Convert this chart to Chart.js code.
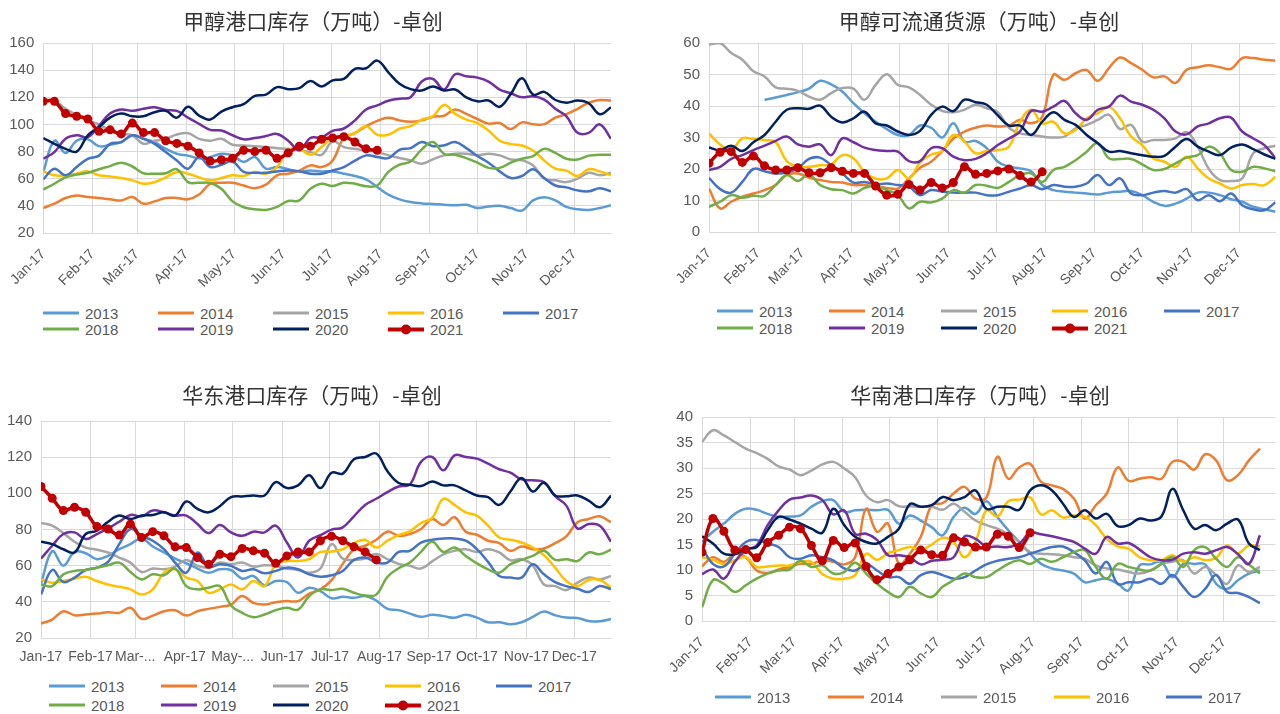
<!DOCTYPE html>
<html><head><meta charset="utf-8">
<script src="https://cdn.jsdelivr.net/npm/chart.js@4.4.1/dist/chart.umd.min.js"></script>
<style>
html,body{margin:0;padding:0;background:#fff;}
body{width:1280px;height:714px;position:relative;overflow:hidden;font-family:'Liberation Sans',sans-serif;}
canvas{position:absolute;}
.title{position:absolute;transform:translate(-50%,-50%);font-family:'Noto Sans CJK SC',sans-serif;font-size:21px;color:#333;white-space:nowrap;}
.lg{position:absolute;display:flex;align-items:center;font-size:15px;color:#595959;transform:translateY(-50%);white-space:nowrap;}
.lg .ln{width:36px;margin-right:6px;position:relative;}
.lg .dot{position:absolute;left:50%;top:50%;width:10px;height:10px;border-radius:50%;transform:translate(-50%,-50%);}
</style></head><body>
<script>
const monthDays=[0,31,59,90,120,151,181,212,243,273,304,334];
const monthLabels=['Jan-17','Feb-17','Mar-17','Apr-17','May-17','Jun-17','Jul-17','Aug-17','Sep-17','Oct-17','Nov-17','Dec-17'];
const monthLabelsEast=['Jan-17','Feb-17','Mar-...','Apr-17','May-...','Jun-17','Jul-17','Aug-17','Sep-17','Oct-17','Nov-17','Dec-17'];
const years=['2013','2014','2015','2016','2017','2018','2019','2020','2021'];
const colors=['#5B9BD5','#ED7D31','#A5A5A5','#FFC000','#4472C4','#70AD47','#7030A0','#002060','#C00000'];

// 甲醇港口库存
const port2013=[65,88,79,88,89,84,85,87,92,89.4,87,82,78.4,77,75,76,78.4,77.2,72.3,76,67.4,68.6,67,65.4,66,65.4,65.4,63.7,62,59.5,53.9,48.3,44.8,42.8,41.8,41.4,40.8,40.4,40.8,38.4,39.6,40,38.4,36.5,44,46.3,44,39.2,37.5,37,38.4,40.4];
const port2014=[38.4,41.6,45.8,47.7,46.5,45.8,44.8,44,46.5,41.6,43.3,45.8,45.8,44.8,48.3,56.3,57,57,55,53,55.6,62.5,63.7,66,69.8,68.6,73.5,90,93.6,98.7,102.6,105,103,102,103,105.7,106.4,111,107.8,104,100.6,101,96.6,101.5,100.2,100.2,105,107.6,111.5,116,118,117.6];
const port2015=[118,117.6,111.5,107,103,100,95.5,93,92,85.7,88,89.4,92.6,93.6,89.4,88,89.4,85,84.5,84,83.3,82.5,82,81,79.6,77.6,87.5,83.3,82,80.8,79.6,77.2,75.2,73.5,71,74.2,77.2,78.4,78.4,77.2,78.4,77.2,74.2,73.5,69.8,60,58.8,57.5,60,64.4,62.5,64.4];
const port2016=[65.4,62.5,62.5,63.7,65.4,62.5,61.7,60.5,58.8,56.3,57.5,61,65,63.7,61,58.8,60.5,62.5,62,65,63.7,68.6,80.8,82,77.6,83.3,90,90.6,93.8,98.7,92.4,92.4,96.8,98.7,103.6,106,114.4,107.8,103.6,101,95.5,88,85.5,84.5,80.8,73.5,67.4,66,62,67,65.4,62.5];
const port2017=[59.5,67.4,62.5,68.6,74.7,77,85.7,87,92,89.4,85.7,79.6,73.5,67.4,76,68.6,70.3,72.7,65,64.4,64.4,65.4,66,65.4,63.7,63.7,66,68.6,73.3,77.2,76,75.2,81.3,82.5,87,84,84.5,87,82.5,76.7,71.8,65.4,60.5,62,67,60.5,55,53.6,51.4,50.7,53,50.7];
const port2018=[52,56.3,61,63,64.4,67,69.3,71.8,69,64,63.7,64,67,57.5,57,56.8,52.6,43.3,39,37.5,37,39.2,43.6,44,52.6,56.3,54.6,57,56.3,54.4,55,65,70.3,72.7,81.6,87,78.4,77.6,75.2,71.8,68,68,71.8,74.7,76.7,82,79,74.7,74.2,77,77.6,77.6];
const port2019=[74.7,79.6,89.4,92,90.6,99,108,111,110,111.5,112.7,110.7,110,105,100.4,96,95.5,92,89,90,91.4,93,88,81,90,90.4,95.3,97,103,111,114,117.4,119,120,131.6,133.5,125.7,137,135.5,134.5,131.6,125.7,123,120,120.8,118.3,111.5,106,93.8,93.8,100,89.4];
const port2020=[90,85.7,82,80,92,98,105,108,106,106,109,110,105,113,106.5,103.6,109.5,112.7,115,121,122,127.5,126,126.7,132,128,132.5,133.5,141,141.4,147,138.4,130,126,125,128,125,125.7,120,117,117.6,113,122.5,134,122,124,118,116,117.6,115.6,107.5,112.7];
const port2021=[117,117,108,106,104,95,96,93,101,94,94,88,86,84,79,73,74,75,81,80,81,75,79,84,84,89,90,91,87,82,81];

// 甲醇可流通货源
const flow2013=[null,null,null,null,null,42,42.7,43.5,44.4,45.5,48,46.9,44.6,40.9,37.7,35,32.7,30.8,30.8,33.8,33.1,30,34.5,28.7,28.9,26.6,22.3,20.7,20.2,19.3,14.9,13.3,12.8,12.5,12.2,11.9,12.5,12.8,13,11.7,9.6,8.3,9,10.6,12.5,12.5,11.7,10.4,9.6,8,7.2,6.4];
const flow2014=[13.8,7.5,9.6,11.2,12.2,13.3,14.9,18.1,18.6,17.2,16.5,15.9,15.7,14.9,14.9,14.4,14,13.8,17,20.4,22.3,25.7,29.7,31.9,33.1,33.8,33.5,33.8,35.6,34.5,36.6,49.9,48.3,50.4,51.4,48,52,55.4,53.6,51.5,49.1,49.4,47.3,51.5,52.3,52.9,52.3,51.8,55.2,55.2,54.7,54.4];
const flow2015=[59.5,60,56.8,54.7,51,49.4,45.9,45.5,44.8,43,42,44.1,45.7,45.5,42,46.7,50.1,46.7,45.9,43.5,40.4,38.4,38,38.8,40.4,39.3,38,33.1,31.3,30.8,30.3,30,30.3,32.9,34,35.6,37.2,32.7,34,28.7,29.2,29.2,29.7,31.7,27,20,16.5,16.2,17,25,26.6,27.4];
const flow2016=[31.3,27.8,26,29.7,29.5,29.2,28.5,22.5,20.7,20.7,21.2,21.5,24.4,23.4,19.1,17,17,19.7,17,22.1,24.6,25.7,30.8,28.7,25,25.7,26,27.1,35,38.8,34.5,35,31.3,32.4,36.1,37.7,39.8,36.1,30.3,27.6,23.4,22.3,20.7,23.9,20.2,17,15.4,13.8,14.9,15.2,14.9,17.5];
const flow2017=[17.2,13.6,12.5,15.9,20,19.3,18.6,18.9,20.2,23.2,23.6,21.2,18.6,15.7,15.9,15.1,15.4,14.9,14.4,11.7,13.3,12.8,12.5,12.5,12.5,11.7,11.7,12.8,13.8,14.9,13.6,14.9,14.4,14.4,15.4,18.1,14.9,17,12.2,11.7,12.5,13,12.5,13.6,10.1,11.7,9.8,12.2,8.5,7.2,6.9,9.4];
const flow2018=[8,9.6,11.7,10.9,11.5,11.5,14.9,18.1,16.2,18.3,14.9,13.6,13.3,12.2,14,14.7,13.3,11.7,7.5,9.6,9.4,10.6,13.3,12.5,14.9,14.7,14,15.9,18.1,18.6,15.9,19.7,20.7,22.8,25.5,28.2,23.4,23.2,23.2,21.5,19.7,20,21.8,23.6,24.4,27.1,25,19.7,19.1,20.7,20.2,19.3];
const flow2019=[19.7,20.7,23.2,24.4,26,27.4,28.9,30.3,27.8,27.1,27.8,24.4,29.7,28.5,26.8,26,25.7,25.5,22.5,22.5,26.6,26.6,23.9,22.8,23.2,25,27.6,29.7,31.9,38.4,38.2,39.8,41.6,37.7,35.6,38.8,39.8,43.3,41.4,40.4,38.8,36.1,31.9,31,33.5,34.5,36.1,36.3,31.9,29.7,27.6,23.4];
const flow2020=[26.8,26,27.4,25.7,28.5,30.8,35,38.8,39.3,39.1,40.1,36.6,34.8,36.1,38.2,34.5,33.8,31.9,30.8,32.1,37.2,39.8,38.4,42,41.2,40.4,37,33.8,33.8,30.8,35,38,35.6,34,30.8,28.2,25.5,25.7,25,24.4,23.9,24.2,27.1,29.5,27.1,25.5,24.4,26.8,27.8,26.3,24.6,23.2];
const flow2021=[21.8,25.3,25.5,22.1,24.1,21,19.7,19.7,20.4,18.8,18.8,20.4,19.3,18.6,18.6,14.6,11.7,12,15.1,13.3,15.7,14,15.7,20.7,18.3,18.6,19.4,20,17.9,15.9,19.1];

// 华东港口库存
const east2013=[50,68,60,67.6,66.9,63.6,65.4,69.1,71.9,75,70.6,67.3,63.9,61.3,58.4,56.1,58,57.6,52.8,54.3,49.1,51.5,50.9,45,47.8,45.9,42,42.8,42.2,43.2,40.7,36.1,35.4,33.5,31.7,32.8,32.1,31.2,32.8,31.3,28.7,28.7,27.6,28.7,31.7,34.6,32.6,31.3,31.1,29.4,29.2,30.5];
const east2014=[28,30.2,34.8,32.6,33,33.5,34.3,33.9,36.7,30.6,32.4,34.8,35.4,32.4,34.8,36.1,37.2,38.5,43.2,39.4,38.5,39.8,40.4,40.4,44.6,46.9,52,61,69.1,71,74.3,78.8,76.5,77.5,80.3,85.8,82.5,86.8,78.8,77.1,73.8,72.5,68.2,70.6,69.1,69.5,72.5,76.2,84,85.8,87.3,84];
const east2015=[83.6,82.1,78,73.2,70,68.8,67.3,64.5,61.7,56.5,58.4,58,59.5,63.2,59.9,58.9,61.7,60.8,61.7,59.5,60.2,59.9,58.4,57.6,56.1,58.4,71.9,63.9,63.2,63.9,66.5,63.6,61,59.9,58.4,62.4,66.3,68.2,69.1,67.6,69.1,67.3,63,63.6,60.2,49.6,48.7,46.5,50.6,53.4,52.4,54.3];
const east2016=[52.4,50.6,51.5,52.8,53.9,51.5,49.6,48.3,46.9,44.1,46.9,56.1,58,53.4,51.5,45,46.9,49.6,46.9,51.5,48.7,60.8,62.6,62.6,63.6,67.6,67.8,69.1,72.5,74.3,70,73.8,76.9,79,83.6,86.4,97,93.6,89.5,87.7,82.1,75.6,74.3,72.8,70,65.8,58.9,51.5,48.7,52.1,52.1,47.8];
const east2017=[44.1,57.6,51,53.4,57.6,58.9,62.1,71.9,80.3,76.5,73.8,69.1,61.7,56.1,67.3,59.5,60.8,59.9,57.1,58,55.8,57.1,58.9,58,55.2,53.9,54.7,57.1,63.2,64.5,61.7,61.7,67.6,68.2,72.8,74.3,75,75,73.8,69.1,62.1,54.3,53.4,53.4,60.8,55.2,50.9,48.7,47.2,45.4,48.7,46.9];
const east2018=[49.6,48.7,55.2,57.1,57.6,58.9,60.2,61.7,56.5,52.4,55.2,54.7,58.4,48.7,46.9,47.8,48.7,38,33.9,31.5,33,35.4,36.7,35.7,43.2,46.9,46.5,47.2,45,43.5,44,53.9,58.6,61.7,67.6,73.2,67.6,70,65.4,61.3,58,56.1,60.8,63.2,65.4,68.2,63.2,63.6,62.6,67.3,66.3,68.8];
const east2019=[63.9,71,77.5,78.4,74.7,77.5,80.6,84.3,88,87.3,90.5,89.5,87.7,87.7,83,78,82.5,78.4,76.5,78.8,78.4,82.1,72.8,64.5,73.8,76.9,79.9,81.2,87.3,93.6,97,100.7,103.8,104.9,117.4,120.1,112.7,121,120.1,119.2,116.4,113.3,111.4,107.7,107.2,106.2,98.4,93.2,80.6,83,82.1,73.2];
const east2020=[73.2,71.9,69.1,67.3,77.5,79.3,84.3,87.7,85.8,87.7,88,89.5,87.7,95.5,91.4,89.5,92.9,97.9,98.3,98.8,98.8,106.2,102.9,104.4,110,102.9,111.4,110.9,118.8,120.1,122,112.2,105.7,104.7,104,106.6,104.4,104.4,101.6,98.8,97.9,93.6,101,108.5,101,105.9,98.8,98.4,98.8,96,92.3,98.8];
const east2021=[103.8,97.3,90.5,92.3,89.5,81.7,80.3,76.9,83,75.6,78.8,76.5,70.4,70,64.5,60.8,66.3,65,69.5,68.2,66.9,61.3,65.4,67.6,67.6,73.8,76.2,73.8,70.4,67.6,63.2];

// 华南港口库存
const south2013=[15.5,17.5,19.1,21,22,21.8,21,20.4,20.5,20.7,22.4,23.5,23.7,21.4,21.7,21.8,21.7,21.8,19.1,20.7,19.7,18.4,16.8,20.4,22.2,21,23.5,20.4,17.8,15.5,13.2,11.2,10.3,9.9,9.3,7.6,8,8.3,7.3,6,10.9,11.1,11.6,8.6,11.2,11.2,11.1,7.3,6.3,8,9.3,9.9];
const south2014=[10.7,12.5,11.6,13.2,12.5,9.9,9.4,10.1,10.6,11.2,11.2,11.9,11.6,11.1,12.5,22,17.5,19.1,11.2,13.2,16.5,22.7,23.1,25,26.3,24,24.2,32.2,27.9,30.1,30.8,27.3,26.6,25.9,24,20.1,22.7,25,30.1,27.5,27.9,28.2,27.9,31.2,31.2,29.7,32.7,31.5,27.6,28.6,31.5,33.8];
const south2015=[35.1,37.4,36.4,35.1,33.8,32.9,31.8,30.3,29.7,28.6,29.5,30.7,31.2,29.9,28.2,24.6,23.3,23.7,22.5,22.5,22.4,22.4,21.8,23,21.4,19.7,18.8,18.1,17,15.5,13.5,13.2,13.1,12.9,12.5,12.2,10.9,10.3,10.1,9.6,9.3,9.9,11.2,11.6,11.9,9.3,10.6,9,7.3,10.9,9.6,10.6];
const south2016=[12.5,12,11.2,11.9,12.5,10.6,10.7,10.9,10.9,11.6,11.6,9.2,8.3,8.3,9,13.2,12,13.3,13.9,14.5,13.9,15,16.3,15.5,12.5,15.5,21.7,20.5,23.5,23.8,24.2,20.9,21.7,20.3,20.7,20.4,18.8,16.1,14.6,14.2,12.5,11.9,11.9,12.9,11.6,12.5,11.9,12.4,14.8,13.3,14.8,14.6];
const south2017=[14.4,11.2,10.7,13.2,15.5,15.9,15.2,14.5,12.5,12.2,12.9,12.5,11.9,10.3,9.9,11.2,9.9,8.6,8.6,7.3,9,9.6,9,8.3,8.6,9.9,11.1,11.8,12.2,12.5,13.2,13.9,14.5,14.6,13.5,11.9,9.3,11.6,7.3,7.6,7.6,8.3,7.3,9,6.7,4.7,6.3,9,5.7,5.5,4.7,3.5];
const south2018=[2.7,8,7.3,5.7,7,8.3,9.3,9.9,10.1,11.8,10.6,10.9,9.3,9.6,11.4,9.3,7.3,5.7,4.7,6.7,5.4,4.7,6.7,8,9.3,8.6,8.6,9.9,11.2,11.9,11.2,12.2,11.6,12.5,13.5,13.9,10.6,8.3,11.2,10.6,10.1,9.9,11.2,12.5,10.6,13.9,14.5,12.2,10.6,12.5,11.1,9.3];
const south2019=[9.2,10.1,8.3,11.6,13.9,14.8,18.8,21.7,23.8,24.2,24.6,23.7,20.9,21.7,17.1,17.1,15.9,12.9,12.9,12.5,11.1,11.8,12,12.5,16.6,16.1,14.6,14.6,14.5,15.2,17.3,17,16.6,16.1,15.5,14.2,13.2,16.5,15.2,15.3,14,12.5,11.9,12,13.2,13.5,13.2,13.9,14.5,13.1,11.2,16.8];
const south2020=[16.6,15.2,13.2,13.1,14.2,14.5,17.8,20.4,19.9,19.1,18.1,17.3,22,18.8,16.5,15.5,15.2,16.5,18.1,22.9,22.4,22.7,24.3,23.7,24.3,25.6,22,22.4,22.4,21.8,25.6,26.6,25.6,23,20.4,21.7,20.1,21,18.6,18.8,20.1,19.7,20.5,25.9,21.7,18.1,18.8,17.8,19.1,19.9,15.2,13.9];
const south2021=[13.5,20.1,17.6,13.9,14,12.4,15.4,16.8,18.4,18.1,14.8,11.8,15.8,14.4,15.3,10.7,8.1,9.3,10.6,12,13.9,13,12.9,16.3,15.5,14.5,14.5,17,16.6,14.4,17.3];

const panels=[
 {title:'甲醇港口库存（万吨）-卓创',series:[port2013,port2014,port2015,port2016,port2017,port2018,port2019,port2020,port2021],
  box:[0,0,640,300],pad:[0,29,43,0],yW:41,xH:67,ymin:20,ymax:160,step:20,xmax:357,rot:45,labels:monthLabels,
  tpos:[313,20],cols:[43,158,273,388,503],rows:[313,329]},
 {title:'甲醇可流通货源（万吨）-卓创',series:[flow2013,flow2014,flow2015,flow2016,flow2017,flow2018,flow2019,flow2020,flow2021],
  box:[640,0,640,300],pad:[0,2,43,0],yW:69,xH:68,ymin:0,ymax:60,step:10,xmax:357,rot:45,labels:monthLabels,
  tpos:[979,20],cols:[717,829,941,1052,1164],rows:[311,328]},
 {title:'华东港口库存（万吨）-卓创',series:[east2013,east2014,east2015,east2016,east2017,east2018,east2019,east2020,east2021],
  box:[0,370,640,300],pad:[0,29,51,0],yW:41,xH:32,ymin:20,ymax:140,step:20,xmax:357,rot:0,labels:monthLabelsEast,
  tpos:[312,394],cols:[49,161,273,385,496],rows:[686,705]},
 {title:'华南港口库存（万吨）-卓创',series:[south2013,south2014,south2015,south2016,south2017,south2018,south2019,south2020,south2021],
  box:[640,370,640,344],pad:[0,0,47,0],yW:62,xH:93,ymin:0,ymax:40,step:5,xmax:367,rot:45,labels:monthLabels,
  tpos:[980,394],cols:[715,828,941,1054,1166],rows:[697,732]}
];

const FONT="'Liberation Sans',sans-serif";
panels.forEach(p=>{
  const c=document.createElement('canvas');
  c.width=p.box[2];c.height=p.box[3];
  c.style.left=p.box[0]+'px';c.style.top=p.box[1]+'px';
  c.style.width=p.box[2]+'px';c.style.height=p.box[3]+'px';
  document.body.appendChild(c);
  const t=document.createElement('div');t.className='title';t.textContent=p.title;
  t.style.left=p.tpos[0]+'px';t.style.top=p.tpos[1]+'px';document.body.appendChild(t);
  const datasets=p.series.map((arr,i)=>{
    const last=i===8;
    return {label:years[i],data:arr.map((v,k)=>({x:k*7,y:v})),borderColor:colors[i],backgroundColor:colors[i],
      borderWidth:last?3.5:2.5,pointRadius:last?4.5:0,pointHoverRadius:last?4.5:0,pointBorderWidth:0,
      pointBackgroundColor:colors[i],tension:0.4,order:9-i,spanGaps:false};
  });
  new Chart(c,{type:'line',data:{datasets},
    options:{responsive:false,animation:false,
      layout:{padding:{left:p.pad[0],right:p.pad[1],top:p.pad[2],bottom:p.pad[3]}},
      plugins:{legend:{display:false},tooltip:{enabled:false}},
      scales:{
        x:{type:'linear',min:0,max:p.xmax,
          afterBuildTicks:s=>{s.ticks=monthDays.map(v=>({value:v}));},
          afterFit:s=>{s.height=p.xH;},
          grid:{color:'#d9d9d9',lineWidth:1,drawTicks:false},
          border:{display:true,color:'#d9d9d9'},
          ticks:{autoSkip:false,minRotation:p.rot,maxRotation:p.rot,padding:p.rot?13:11,color:'#595959',
            font:{family:FONT,size:14},callback:(v,i)=>p.labels[i]}},
        y:{min:p.ymin,max:p.ymax,
          afterFit:s=>{s.width=p.yW;},
          grid:{color:'#d9d9d9',lineWidth:1,drawTicks:false},
          border:{display:false},
          ticks:{stepSize:p.step,padding:9,color:'#595959',font:{family:FONT,size:15}}}
      }}});
  years.forEach((y,i)=>{
    const d=document.createElement('div');d.className='lg';
    d.style.left=p.cols[i%5]+'px';d.style.top=p.rows[Math.floor(i/5)]+'px';
    const ln=document.createElement('span');ln.className='ln';
    ln.style.height=(i===8?4:3)+'px';ln.style.background=colors[i];
    if(i===8){const dot=document.createElement('span');dot.className='dot';dot.style.background=colors[i];ln.appendChild(dot);}
    d.appendChild(ln);
    const tx=document.createElement('span');tx.textContent=y;d.appendChild(tx);
    document.body.appendChild(d);
  });
});
</script>
</body></html>
